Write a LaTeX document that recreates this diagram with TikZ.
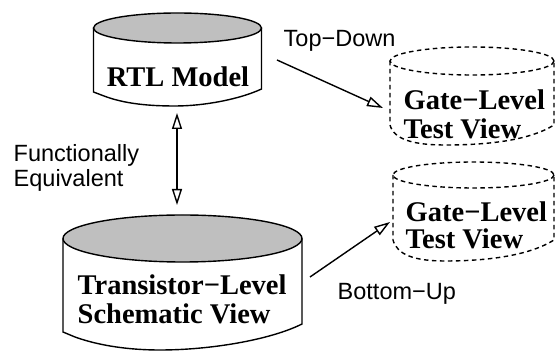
\documentclass[tikz,border=0pt]{standalone}
\usepackage{fontspec}
\setmainfont{Liberation Serif}
\setsansfont{Liberation Sans}
\usetikzlibrary{arrows.meta}
\begin{document}
\begin{tikzpicture}[x=1pt,y=-1pt,line width=1.4pt,
  dbline/.style={dash pattern=on 4.5pt off 3.5pt},
  toplid/.style={fill=black!25},
  big/.style={inner sep=0pt,font=\bfseries\fontsize{28.5}{29.5}\selectfont,align=left},
  bigb/.style={inner sep=0pt,font=\bfseries\fontsize{28.5}{27}\selectfont,align=left},
  lab/.style={inner sep=0pt,font=\sffamily\fontsize{23.5}{25}\selectfont,align=left},
  conn/.style={-{Triangle[open,length=16pt,width=10pt]}},
  biconn/.style={{Triangle[open,length=16pt,width=10pt]}-{Triangle[open,length=16pt,width=10pt]}}
]
\useasboundingbox (0,0) rectangle (555,352);
% RTL Model cylinder
\draw[toplid] (177.5,28) ellipse [x radius=84, y radius=15];
\draw (93.5,28) -- (93.5,92) -- (104,96) .. controls (125,104) and (150,106) .. (175,106)
  .. controls (205,106) and (240,99) .. (261.5,89) -- (261.5,28);
\node[big,anchor=base] (rtl) at (178,87) {RTL Model};
% Transistor-level cylinder
\draw[toplid] (182.5,238.5) ellipse [x radius=119.5, y radius=23.5];
\draw (63,238.5) -- (63,332) -- (75,337) .. controls (100,346) and (130,350) .. (160,350)
  .. controls (210,350) and (270,340) .. (302,324) -- (302,238.5);
\node[big,anchor=north west] (trans) at (77,274) {Transistor−Level\\Schematic View};
% Gate-level cylinder (top)
\draw[dbline] (472,61) ellipse [x radius=82, y radius=14];
\draw[dbline] (390,61) -- (390,125) .. controls (394,140) and (415,145) .. (445,145)
  .. controls (490,145) and (530,140) .. (554,125) -- (554,61);
\node[big,anchor=north west] (gate1) at (403,89) {Gate−Level\\Test View};
% Gate-level cylinder (bottom)
\draw[dbline] (473.5,175) ellipse [x radius=80.5, y radius=13];
\draw[dbline] (393,175) -- (393,240) .. controls (397,255) and (415,261) .. (445,261)
  .. controls (490,261) and (530,255) .. (554,240) -- (554,175);
\node[bigb,anchor=north west] (gate2) at (405,201) {Gate−Level\\Test View};
% labels
\node[lab,anchor=base west] (topdown) at (283,47) {Top−Down};
\node[lab,anchor=north west] (funceq) at (13,144) {Functionally\\Equivalent};
\node[lab,anchor=base west] (bottomup) at (337,300) {Bottom−Up};
% connectors
\coordinate (rtlbot) at (177,113);
\coordinate (transtop) at (177,205);
\coordinate (tdstart) at (277,60);
\coordinate (tdend) at (383,108);
\coordinate (bustart) at (310,277);
\coordinate (buend) at (390,222);
\draw[biconn] (rtlbot) -- (transtop);
\draw[conn] (tdstart) -- (tdend);
\draw[conn] (bustart) -- (buend);
\end{tikzpicture}
\end{document}
